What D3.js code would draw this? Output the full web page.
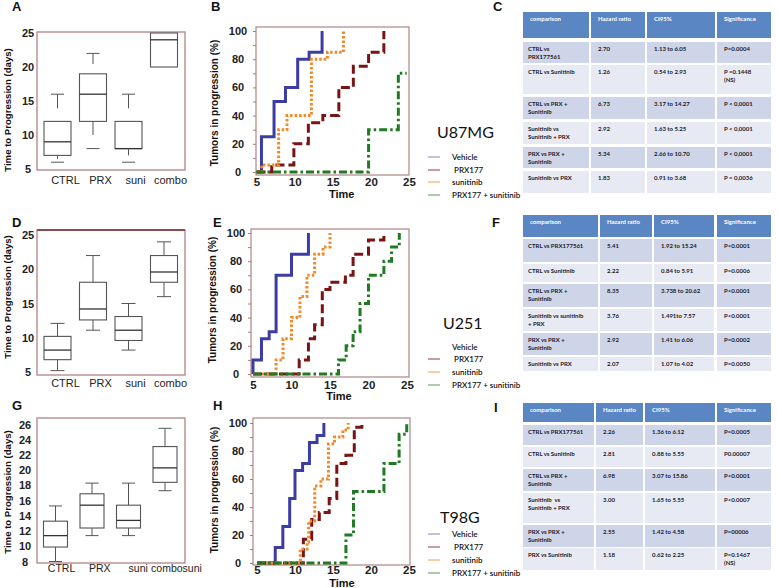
<!DOCTYPE html>
<html><head><meta charset="utf-8">
<script src="https://cdn.jsdelivr.net/npm/d3@7"></script>
<style>body{margin:0;background:#fff;} svg{display:block;font-family:"Liberation Sans",Arial,sans-serif;}</style>
</head><body><svg id="c" width="777" height="588"></svg>
<script>
// ---------------- DATA ----------------
const boxCategories = ["CTRL", "PRX", "suni", "combo"];
const boxCategoriesG = ["CTRL", "PRX", "suni", "combosuni"];
// [min, q1, median, q3, max]
const boxU87 = [[6, 7, 9, 12, 16], [8, 12, 16, 19, 22], [6, 8, 8, 12, 16], [20, 20, 24, 25, 25]];
const boxU251 = [[5.2, 6.8, 8.2, 10.2, 12.1], [11.1, 12.6, 14.2, 18.1, 22], [8.2, 9.6, 11.1, 13.1, 15], [16, 18.1, 19.6, 22, 24]];
const boxT98 = [[8, 9.9, 11.4, 13.3, 15.3], [11.4, 12.4, 15.4, 16.9, 18.3], [11.4, 12.4, 13.4, 15.4, 18.3], [17.3, 18.4, 20.3, 23.1, 25.5]];
const boxTicksAD = [5, 10, 15, 20, 25];
const boxTicksG = [8, 10, 12, 14, 16, 18, 20, 22, 24, 26];

const seriesNames = ["Vehicle", " PRX177", "sunitinib", "PRX177 + sunitinib"];
const kmTicksX = [5, 10, 15, 20, 25];
const kmTicksY = [0, 20, 40, 60, 80, 100];
// Kaplan-Meier steps: [time, % tumors in progression]
const vehicleU87 = [[5, 0], [5.65, 25], [7.3, 50], [8.8, 60], [10.4, 80], [11.9, 85], [13.6, 100]];
const prxU87 = [[5, 0], [7.0, 5], [9.9, 20], [11.8, 35], [13.7, 40], [15.8, 60], [17.7, 75], [19.7, 85], [21.7, 100]];
const suniU87 = [[5, 0], [5.7, 5], [7.9, 30], [9.0, 40], [12.2, 80], [14.3, 85], [16.4, 100]];
const comboU87 = [[5, 0], [19.7, 30], [23.6, 70], [24.7, 70]];

const vehicleU251 = [[5, 0], [5.0, 10], [6.1, 25], [7.1, 30], [8.0, 70], [10.0, 85], [12.2, 100]];
const prxU251 = [[5, 0], [11.0, 10], [12.2, 25], [13.0, 35], [14.0, 60], [15.0, 65], [17.0, 70], [18.0, 85], [20.0, 95], [22.0, 100]];
const suniU251 = [[5, 0], [8.0, 10], [8.9, 25], [10.0, 40], [11.1, 55], [12.0, 70], [13.0, 85], [14.1, 90], [15.0, 100]];
const comboU251 = [[5, 0], [16.1, 10], [17.1, 20], [18.0, 30], [18.9, 50], [20.0, 70], [22.0, 80], [23.0, 90], [24.0, 100]];

const vehicleT98 = [[5, 0], [7.4, 11], [8.4, 26], [9.3, 46], [10.0, 66], [11.0, 71], [11.9, 86], [12.9, 91], [13.8, 100]];
const prxT98 = [[5, 0], [11.1, 17], [12.2, 31], [13.2, 36], [14.5, 46], [15.5, 71], [16.7, 77], [17.8, 97], [18.8, 100]];
const suniT98 = [[5, 0], [10.7, 10], [11.6, 15], [11.8, 30], [12.6, 55], [13.4, 60], [14.4, 85], [15.2, 90], [16.3, 95], [17.0, 100]];
const comboT98 = [[5, 0], [16.7, 20], [17.7, 51], [21.7, 71], [23.7, 92], [24.7, 100]];

const tableHeaders = ["comparison", "Hazard ratio", "CI95%", "Significance"];
const comparisonsU87 = ["CTRL vs\nPRX177561", "CTRL vs Sunitinib", "CTRL vs PRX +\nSunitinib", "Sunitinib vs\nSunitinib + PRX", "PRX vs PRX +\nSunitinib", "Sunitinib vs PRX"];
const hazardU87 = ["2.70", "1.26", "6.73", "2.92", "5.34", "1.83"];
const ciU87 = ["1.13 to 6.05", "0.54 to 2.93", "3.17 to 14.27", "1.63 to 5.25", "2.66 to 10.70", "0.91 to 3.68"];
const sigU87 = ["P=0.0004", "P =0.1448\n(NS)", "P < 0,0001", "P < 0,0001", "P < 0,0001", "P = 0,0036"];

const comparisonsU251 = ["CTRL vs PRX177561", "CTRL vs Sunitinib", "CTRL vs PRX +\nSunitinib", "Sunitinib vs sunitinib\n+ PRX", "PRX vs PRX +\nSunitinib", "Sunitinib vs PRX"];
const hazardU251 = ["5.41", "2.22", "8.35", "3.76", "2.92", "2.07"];
const ciU251 = ["1.92 to 15.24", "0.84 to 5.91", "3.738 to 20.62", "1.491to 7.57", "1.41 to 6.06", "1.07 to 4.02"];
const sigU251 = ["P<0.0001", "P=0.0006", "P<0.0001", "P<0.0001", "P=0.0002", "P=0.0050"];

const comparisonsT98 = ["CTRL vs PRX177561", "CTRL vs Sunitinib", "CTRL vs PRX +\nSunitinib", "Sunitinib  vs\nSunitinib + PRX", "PRX vs PRX +\nSunitinib", "PRX vs Sunitinib"];
const hazardT98 = ["2.26", "2.81", "6.98", "3.00", "2.55", "1.18"];
const ciT98 = ["1.36 to 6.12", "0.88 to 5.55", "3.07 to 15.86", "1.65 to 5.55", "1.42 to 4.58", "0.62 to 2.25"];
const sigT98 = ["P=0.0005", "P0.00007", "P<0.0001", "P<0.0007", "P=00006", "P=0.1467\n(NS)"];

// ---------------- STYLE ----------------
const lineColors = ["#3b3da4", "#7a1414", "#f28a2a", "#1f7a22"];
const legendColors = ["#9c98c8", "#a85a5e", "#f6ad68", "#74a874"];
const dashes = [null, "9,4", "2.5,2", "8,3,2.5,3"];

const svg = d3.select("#c");

function panelLetter(t, x, y) {
  svg.append("text").attr("x", x).attr("y", y).attr("font-size", 13).attr("font-weight", "bold").attr("fill", "#111").text(t);
}

// ---------------- BOX PLOTS ----------------
function boxPlot(o) {
  const g = svg.append("g");
  const y = d3.scaleLinear().domain(o.yDom).range(o.yRange);
  const x = d3.scalePoint().domain(o.cats).range(o.xRange);
  const xl = d3.scalePoint().domain(o.cats).range(o.labelRange);
  g.append("rect").attr("x", o.frame[0]).attr("y", o.frame[1]).attr("width", o.frame[2] - o.frame[0]).attr("height", o.frame[3] - o.frame[1])
    .attr("fill", "none").attr("stroke", "#b88c8c").attr("stroke-width", 1.4);
  if (o.thickTop) g.append("line").attr("x1", o.frame[0]).attr("x2", o.frame[2]).attr("y1", o.frame[1]).attr("y2", o.frame[1]).attr("stroke", "#8c4a4a").attr("stroke-width", 2.2);
  const ya = d3.axisLeft(y).tickValues(o.ticks).tickSize(0).tickPadding(0);
  const ag = g.append("g").attr("transform", `translate(${o.tickX},0)`).call(ya);
  ag.select(".domain").remove();
  ag.selectAll("text").attr("text-anchor", "middle").attr("font-size", 11).attr("font-weight", "bold").attr("fill", "#222").attr("font-family", "Liberation Sans, Arial");
  const xa = d3.axisBottom(xl).tickSize(0).tickPadding(0);
  const xg = g.append("g").attr("transform", `translate(0,${o.labelY})`).call(xa);
  xg.select(".domain").remove();
  xg.selectAll("text").attr("font-size", o.labelSize || 11).attr("fill", "#222").attr("font-family", "Liberation Sans, Arial");
  g.append("text").attr("transform", `translate(${o.titleX},${o.titleY}) rotate(-90)`).attr("text-anchor", "middle")
    .attr("font-size", 9.6).attr("font-weight", "bold").attr("fill", "#111").text("Time to Progression (days)");
  const bw = o.boxW, cw = o.capW;
  o.data.forEach((d, i) => {
    const cx = x(o.cats[i]);
    const [mn, q1, md, q3, mx] = d;
    const bg = g.append("g").attr("stroke", "#555").attr("fill", "none");
    bg.append("rect").attr("x", cx - bw / 2).attr("y", y(q3)).attr("width", bw).attr("height", y(q1) - y(q3)).attr("stroke-width", 1.1);
    bg.append("line").attr("x1", cx - bw / 2).attr("x2", cx + bw / 2).attr("y1", y(md)).attr("y2", y(md)).attr("stroke-width", 1.3).attr("stroke", "#333");
    if (mx > q3) {
      const yTopEnd = o.half ? y(mx) + (y(q3) - y(mx)) * 0.52 : y(q3);
      bg.append("line").attr("x1", cx).attr("x2", cx).attr("y1", y(mx)).attr("y2", yTopEnd).attr("stroke-width", 1);
      bg.append("line").attr("x1", cx - cw / 2).attr("x2", cx + cw / 2).attr("y1", y(mx)).attr("y2", y(mx)).attr("stroke-width", 1);
    }
    if (mn < q1) {
      const yBotEnd = o.half ? y(q1) + (y(mn) - y(q1)) * 0.5 : y(mn);
      bg.append("line").attr("x1", cx).attr("x2", cx).attr("y1", y(q1)).attr("y2", yBotEnd).attr("stroke-width", 1);
      bg.append("line").attr("x1", cx - cw / 2).attr("x2", cx + cw / 2).attr("y1", y(mn)).attr("y2", y(mn)).attr("stroke-width", 1);
    }
  });
}

boxPlot({ cats: boxCategories, data: boxU87, yDom: [5, 25], yRange: [169, 33], xRange: [57.5, 164], labelRange: [65, 170], labelY: 176,
  frame: [37, 32, 185, 170], ticks: boxTicksAD, tickX: 28, titleX: 11, titleY: 110, boxW: 27, capW: 13, half: true });
boxPlot({ cats: boxCategories, data: boxU251, yDom: [5, 25], yRange: [372, 235], xRange: [57.5, 164], labelRange: [65, 170], labelY: 379,
  frame: [37, 230, 185, 375], ticks: boxTicksAD, tickX: 28, titleX: 11, titleY: 297, boxW: 27, capW: 14, thickTop: true });
boxPlot({ cats: boxCategoriesG, data: boxT98, yDom: [8, 26], yRange: [561.5, 424.5], xRange: [55.5, 165], labelRange: [61, 176], labelY: 565,
  frame: [37, 418, 185, 563], ticks: boxTicksG, tickX: 25, titleX: 11, titleY: 492, boxW: 24, capW: 13, labelSize: 10.5 });

// ---------------- KAPLAN-MEIER ----------------
function kmPlot(o) {
  const g = svg.append("g");
  const x = d3.scaleLinear().domain([5, 25]).range(o.xRange);
  const y = d3.scaleLinear().domain([0, 100]).range(o.yRange);
  g.append("rect").attr("x", o.frame[0]).attr("y", o.frame[1]).attr("width", o.frame[2] - o.frame[0]).attr("height", o.frame[3] - o.frame[1])
    .attr("fill", "none").attr("stroke", "#a77b7b").attr("stroke-width", 1.1);
  const tg = g.append("g").attr("transform", `translate(${o.frame[0]},0)`).call(d3.axisLeft(y).tickValues(d3.range(0, 101, 10)).tickSize(3).tickFormat(""));
  tg.select(".domain").remove();
  tg.selectAll("line").attr("stroke", "#a77b7b");
  const yg = g.append("g").attr("transform", `translate(${o.yLabelX},0)`).call(d3.axisLeft(y).tickValues(kmTicksY).tickSize(0).tickPadding(0));
  yg.select(".domain").remove();
  yg.selectAll("text").attr("text-anchor", "middle").attr("font-size", 11).attr("font-weight", "bold").attr("fill", "#222").attr("font-family", "Liberation Sans, Arial");
  const xg = g.append("g").attr("transform", `translate(0,${o.xLabelY})`).call(d3.axisBottom(x).tickValues(kmTicksX).tickSize(0).tickPadding(0));
  xg.select(".domain").remove();
  xg.selectAll("text").attr("font-size", 11.5).attr("font-weight", "bold").attr("fill", "#222").attr("font-family", "Liberation Sans, Arial");
  g.append("text").attr("x", (o.xRange[0] + o.xRange[1]) / 2 + 9).attr("y", o.timeY).attr("text-anchor", "middle").attr("font-size", 11).attr("font-weight", "bold").attr("fill", "#111").text("Time");
  g.append("text").attr("transform", `translate(${o.titleX},${o.titleY}) rotate(-90)`).attr("text-anchor", "middle")
    .attr("font-size", 10).attr("font-weight", "bold").attr("fill", "#111").text("Tumors in progression (%)");
  const line = d3.line().x(d => x(d[0])).y(d => y(d[1])).curve(d3.curveStepAfter);
  o.series.forEach((s, i) => {
    g.append("path").attr("d", line(s)).attr("fill", "none").attr("stroke", lineColors[i]).attr("stroke-width", 3)
      .attr("stroke-dasharray", dashes[i]).attr("stroke-linejoin", "miter");
  });
  g.append("text").attr("x", o.nameX).attr("y", o.nameY).attr("font-family", "Lato, 'Open Sans', sans-serif").attr("font-size", 16).attr("fill", "#111").text(o.name);
  seriesNames.forEach((n, i) => {
    const ly = o.legendY[i];
    if (!(o.skipLegendLine && i === 0))
      g.append("line").attr("x1", 428).attr("x2", 440).attr("y1", ly).attr("y2", ly).attr("stroke", legendColors[i]).attr("stroke-width", 1.2);
    g.append("text").attr("x", 452).attr("y", ly + 3).attr("font-family", "Lato, 'Open Sans', sans-serif").attr("font-size", 8).attr("font-weight", 600).attr("fill", "#111")
      .attr("xml:space", "preserve").style("white-space", "pre").text(n);
  });
}

kmPlot({ xRange: [256.5, 409], yRange: [172, 31], frame: [256, 27, 409, 175], yLabelX: 238, xLabelY: 178, timeY: 198, titleX: 218, titleY: 103,
  series: [vehicleU87, prxU87, suniU87, comboU87], name: "U87MG", nameX: 437, nameY: 138, legendY: [157, 170, 182, 195] });
kmPlot({ xRange: [253, 407], yRange: [374, 233], frame: [251, 229, 409, 377], yLabelX: 236, xLabelY: 381, timeY: 400, titleX: 216, titleY: 300,
  series: [vehicleU251, prxU251, suniU251, comboU251], name: "U251", nameX: 443, nameY: 329, legendY: [347, 359, 372, 385], skipLegendLine: true });
kmPlot({ xRange: [257, 409], yRange: [563, 423], frame: [253, 418, 410, 565], yLabelX: 238, xLabelY: 566, timeY: 587, titleX: 218, titleY: 490,
  series: [vehicleT98, prxT98, suniT98, comboT98], name: "T98G", nameX: 440, nameY: 523, legendY: [534, 547, 560, 573] });

// ---------------- TABLES ----------------
function table(o) {
  const g = svg.append("g").attr("font-family", "Lato, 'Open Sans', sans-serif").attr("font-weight", "bold");
  const cols = [o.comp, o.hr, o.ci, o.sig];
  tableHeaders.forEach((h, c) => {
    const [x0, x1] = o.colX[c];
    g.append("rect").attr("x", x0).attr("y", o.head[0]).attr("width", x1 - x0).attr("height", o.head[1] - o.head[0]).attr("fill", "#5b86c4");
    g.append("text").attr("x", x0 + 7).attr("y", o.head[0] + 8.5).attr("font-size", 6).attr("fill", "#fff").text(h);
  });
  o.rows.forEach((r, i) => {
    cols.forEach((col, c) => {
      const [x0, x1] = o.colX[c];
      g.append("rect").attr("x", x0).attr("y", r[0]).attr("width", x1 - x0).attr("height", r[1] - r[0]).attr("fill", i % 2 === 0 ? "#ced5e8" : "#e7eaf3");
      col[i].split("\n").forEach((ln, k) => {
        g.append("text").attr("x", x0 + (c === 0 ? 5 : 7)).attr("y", r[0] + 8.5 + k * 8.5).attr("font-size", 6).attr("fill", "#1c1c2c")
          .attr("xml:space", "preserve").style("white-space", "pre").text(ln);
      });
    });
  });
}

table({ comp: comparisonsU87, hr: hazardU87, ci: ciU87, sig: sigU87,
  colX: [[523, 589], [591, 645], [647, 715], [717, 771]], head: [12, 38],
  rows: [[42, 63], [65, 94], [97, 119], [122, 144], [147, 168], [171, 193]] });
table({ comp: comparisonsU251, hr: hazardU251, ci: ciU251, sig: sigU251,
  colX: [[523, 598], [600, 652], [654, 714], [717, 771]], head: [215, 237],
  rows: [[239, 262], [264, 282], [284, 307], [309, 331], [333, 355], [357, 371]] });
table({ comp: comparisonsT98, hr: hazardT98, ci: ciT98, sig: sigT98,
  colX: [[523, 594], [596, 643], [645, 715], [717, 771]], head: [403, 422],
  rows: [[425, 445], [447, 467], [469, 491], [493, 523], [525, 547], [548, 570]] });

// ---------------- PANEL LETTERS ----------------
panelLetter("A", 12, 11); panelLetter("B", 211, 11); panelLetter("C", 493, 11);
panelLetter("D", 12, 227); panelLetter("E", 213, 227); panelLetter("F", 492, 227);
panelLetter("G", 12, 410); panelLetter("H", 213, 410); panelLetter("I", 494, 412);
</script></body></html>
